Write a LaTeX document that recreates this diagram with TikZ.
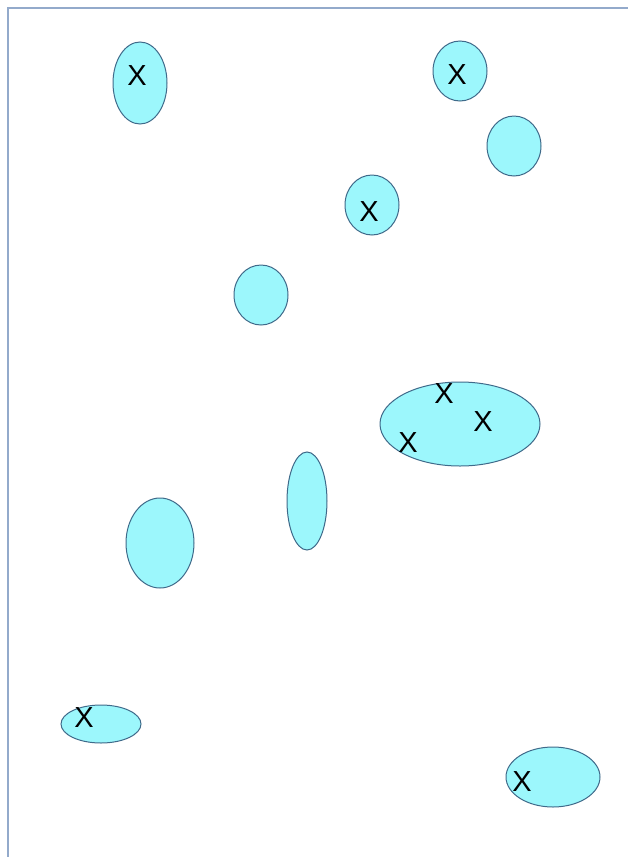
\documentclass[tikz,border=0pt]{standalone}
\usepackage{fontspec}
\setmainfont{Liberation Sans}
\definecolor{blobfill}{HTML}{9CF7FC}
\definecolor{blobline}{HTML}{3F6A8A}
\definecolor{frameline}{HTML}{93AACB}
\begin{document}
\begin{tikzpicture}[x=1pt,y=-1pt,
  blob/.style={draw=blobline,fill=blobfill,line width=1pt},
  mark x/.style={font=\fontsize{29}{29}\selectfont,text=black,inner sep=0pt}]
\useasboundingbox (0,0) rectangle (628,857);
\fill[white] (0,0) rectangle (628,857);
\draw[frameline,line width=2.2pt] (8,857) -- (8,8) -- (628,8);
\draw[blob] (140,83) ellipse [x radius=27,y radius=41];
\draw[blob] (460,71) ellipse [x radius=27,y radius=30];
\draw[blob] (514,146) ellipse [x radius=27,y radius=30];
\draw[blob] (372,205) ellipse [x radius=27,y radius=30];
\draw[blob] (261,295) ellipse [x radius=27,y radius=30];
\draw[blob] (460,424) ellipse [x radius=80,y radius=42];
\draw[blob] (307,501) ellipse [x radius=20,y radius=49];
\draw[blob] (160,543) ellipse [x radius=34,y radius=45];
\draw[blob] (101,724) ellipse [x radius=40,y radius=19];
\draw[blob] (553,777) ellipse [x radius=47,y radius=30];
\node[mark x] (x1) at (137,76) {X};
\node[mark x] (x2) at (457,75) {X};
\node[mark x] (x3) at (369,212) {X};
\node[mark x] (x4) at (444,394) {X};
\node[mark x] (x5) at (483,422) {X};
\node[mark x] (x6) at (408,443) {X};
\node[mark x] (x7) at (84,718) {X};
\node[mark x] (x8) at (522,782) {X};
\end{tikzpicture}
\end{document}
